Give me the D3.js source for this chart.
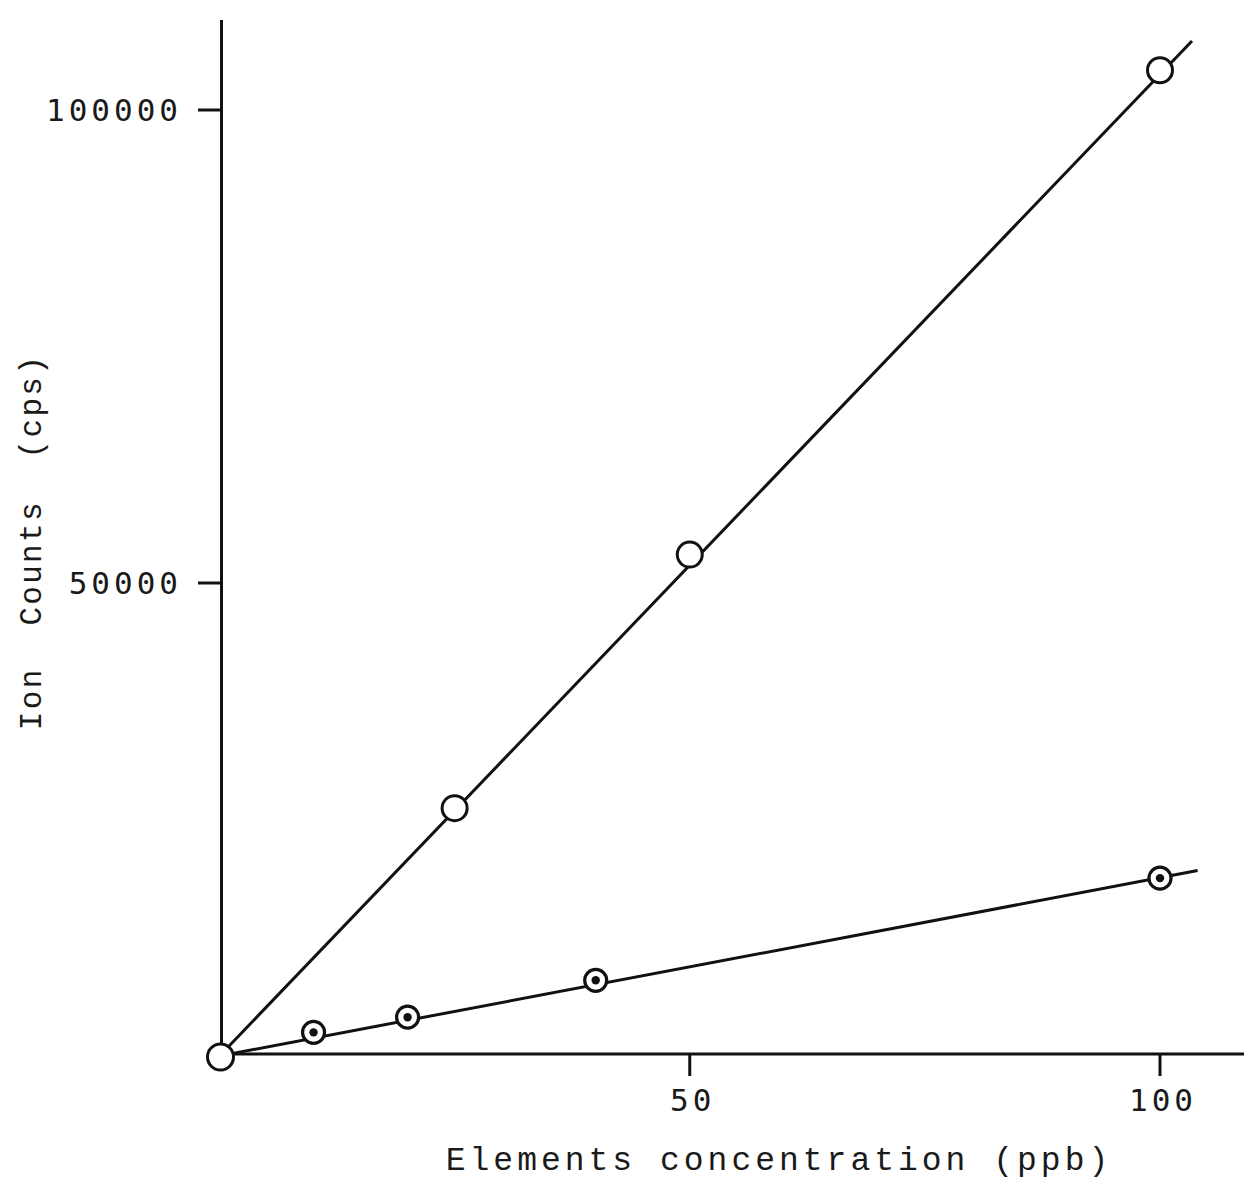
<!DOCTYPE html>
<html>
<head>
<meta charset="utf-8">
<script src="https://cdn.jsdelivr.net/npm/d3@7"></script>
<style>
  body { margin: 0; background: #fff; }
  svg text { fill: #1a1a1a; white-space: pre; }
</style>
</head>
<body>
<div id="chart"></div>
<script>

// data
var xTicks = [50, 100];
var yTicks = [50000, 100000];

// open circles (upper line)
var seriesA_x = [0, 25, 50, 100];
var seriesA_y = [0, 26200, 53000, 104200];
// dotted circles (lower line)
var seriesB_x = [0, 10, 20, 40, 100];
var seriesB_y = [0, 2500, 4100, 8000, 18800];

// fitted calibration lines (start / end)
var lineA_x = [0, 103.4];
var lineA_y = [0, 107300];
var lineB_x = [0, 104];
var lineB_y = [0, 19600];

var width = 1244, height = 1181;

var svg = d3.select("#chart")
  .append("svg")
    .attr("width", width)
    .attr("height", height);

// scales
var x = d3.scaleLinear().domain([0, 100]).range([219.5, 1160]);
var y = d3.scaleLinear().domain([0, 100000]).range([1056, 110]);

var ink = "#111";

// Y axis
svg.append("line")
    .attr("x1", x(0) + 2).attr("x2", x(0) + 2)
    .attr("y1", 20).attr("y2", y(0))
    .attr("stroke", ink).attr("stroke-width", 3);

svg.selectAll(".ytick")
  .data(yTicks)
  .enter().append("line")
    .attr("x1", 198).attr("x2", x(0) + 2)
    .attr("y1", function(d) { return y(d); })
    .attr("y2", function(d) { return y(d); })
    .attr("stroke", ink).attr("stroke-width", 3);

svg.selectAll(".ylab")
  .data(yTicks)
  .enter().append("text")
    .attr("x", 182)
    .attr("y", function(d) { return y(d) + 11; })
    .attr("text-anchor", "end")
    .style("font-family", "'DejaVu Sans Mono', monospace")
    .style("font-size", "31px")
    .style("letter-spacing", "4px")
    .text(function(d) { return d; });

// X axis
svg.append("line")
    .attr("x1", x(0)).attr("x2", width)
    .attr("y1", y(0) - 2).attr("y2", y(0) - 2)
    .attr("stroke", ink).attr("stroke-width", 3);

svg.selectAll(".xtick")
  .data(xTicks)
  .enter().append("line")
    .attr("x1", function(d) { return x(d); })
    .attr("x2", function(d) { return x(d); })
    .attr("y1", y(0) - 2).attr("y2", y(0) + 20)
    .attr("stroke", ink).attr("stroke-width", 3);

svg.selectAll(".xlab")
  .data(xTicks)
  .enter().append("text")
    .attr("x", function(d) { return x(d) + 3; })
    .attr("y", 1111)
    .attr("text-anchor", "middle")
    .style("font-family", "'DejaVu Sans Mono', monospace")
    .style("font-size", "31px")
    .style("letter-spacing", "4px")
    .text(function(d) { return d; });

// axis titles
svg.append("text")
    .attr("x", 779)
    .attr("y", 1170)
    .attr("text-anchor", "middle")
    .style("font-family", "'Liberation Mono', 'Courier New', monospace")
    .style("font-size", "33px")
    .style("letter-spacing", "4px")
    .text("Elements concentration (ppb)");

svg.append("text")
    .attr("transform", "translate(41,542) rotate(-90)")
    .attr("text-anchor", "middle")
    .style("font-family", "'Liberation Mono', 'Courier New', monospace")
    .style("font-size", "31px")
    .style("letter-spacing", "2.3px")
    .text("Ion  Counts  (cps)");

// calibration lines
var line = d3.line()
    .x(function(d) { return x(d[0]); })
    .y(function(d) { return y(d[1]); });

svg.append("path")
    .datum(d3.zip(lineB_x, lineB_y))
    .attr("d", line)
    .attr("fill", "none")
    .attr("stroke", ink)
    .attr("stroke-width", 3);

svg.append("path")
    .datum(d3.zip(lineA_x, lineA_y))
    .attr("d", line)
    .attr("fill", "none")
    .attr("stroke", ink)
    .attr("stroke-width", 3);

// dotted circles
var ptsB = d3.zip(seriesB_x, seriesB_y);
svg.selectAll(".ptB")
  .data(ptsB)
  .enter().append("circle")
    .attr("cx", function(d) { return x(d[0]); })
    .attr("cy", function(d) { return y(d[1]); })
    .attr("r", 11)
    .attr("fill", "#fff")
    .attr("stroke", ink)
    .attr("stroke-width", 3.2);

svg.selectAll(".dotB")
  .data(ptsB.slice(1))
  .enter().append("circle")
    .attr("cx", function(d) { return x(d[0]); })
    .attr("cy", function(d) { return y(d[1]); })
    .attr("r", 4.2)
    .attr("fill", ink);

// open circles
var ptsA = d3.zip(seriesA_x, seriesA_y);
svg.selectAll(".ptA")
  .data(ptsA)
  .enter().append("circle")
    .attr("cx", function(d) { return x(d[0]) + (d[0] === 0 ? 1 : 0); })
    .attr("cy", function(d) { return y(d[1]) + (d[0] === 0 ? 1 : 0); })
    .attr("r", function(d) { return d[0] === 0 ? 13 : 12.5; })
    .attr("fill", "#fff")
    .attr("stroke", ink)
    .attr("stroke-width", 3);

</script>
</body>
</html>
